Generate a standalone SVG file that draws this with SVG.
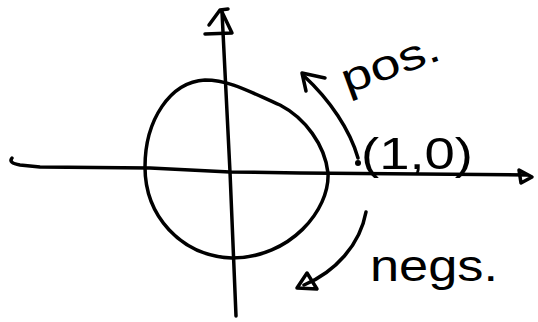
<svg xmlns="http://www.w3.org/2000/svg" width="538" height="322" viewBox="0 0 538 322">
<style>
.s{fill:none;stroke:#000;stroke-width:3.5;stroke-linecap:round;stroke-linejoin:round}
.t{font-family:"Liberation Sans",Arial,sans-serif;fill:#000}
</style>
<rect width="538" height="322" fill="#fff"/>
<g id="axes">
<path class="s" d="M12,158 Q8,163 20,165 L40,167 L150,168 L230,172 L300,173 L527,175"/>
<path class="s" d="M519,170 L532,177 L521,183 Z"/>
<path class="s" d="M222,12 L230,172 L236,316"/>
<path class="s" d="M209,25 L220,10 L228,9 M222,12 L232,33 L205,34"/>
</g>
<g id="circle">
<path class="s" d="M280,105 C305,118 325,145 328,173 C330,210 290,258 232,258 C180,256 145,215 145,167 C145,120 170,82 205,80 C230,80 250,92 280,105"/>
</g>
<g id="point">
<circle cx="358" cy="163" r="3" fill="#000"/>
<text class="t" x="361" y="169" font-size="44" textLength="112" lengthAdjust="spacingAndGlyphs">(1,0)</text>
</g>
<g id="connectors">
<path class="s" d="M358,158 C350,130 330,100 304,76"/>
<path class="s" d="M306,91 L302,73 L325,78"/>
<path class="s" d="M366,212 C360,245 335,272 304,285"/>
<path class="s" d="M297,288 L307,273 L317,289 Z"/>
</g>
<g id="labels">
<text class="t" x="347" y="94" font-size="42" textLength="102" lengthAdjust="spacingAndGlyphs" transform="rotate(-20 347 94)">pos.</text>
<text class="t" x="370" y="281" font-size="44" textLength="128" lengthAdjust="spacingAndGlyphs">negs.</text>
</g>
</svg>
